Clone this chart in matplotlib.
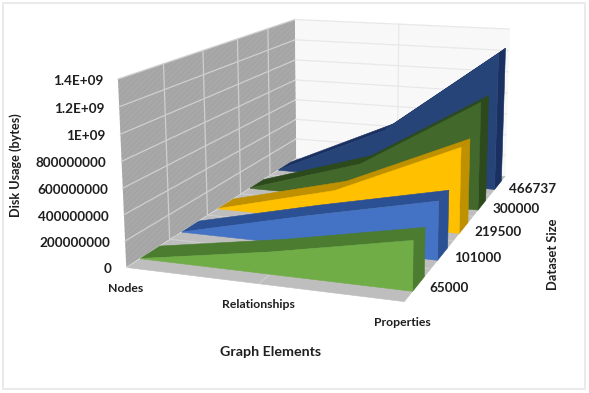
import numpy as np
import matplotlib
matplotlib.use('Agg')
import matplotlib.pyplot as plt
from matplotlib.patches import Rectangle
from mpl_toolkits.mplot3d import proj3d
from mpl_toolkits.mplot3d.art3d import Poly3DCollection

categories = ['Nodes', 'Relationships', 'Properties']
dataset_sizes = ['65000', '101000', '219500', '300000', '466737']
usage_65000 = [2e6, 1.7e8, 3.7e8]
usage_101000 = [2e6, 2.4e8, 4.6e8]
usage_219500 = [3e6, 2.6e8, 7.1e8]
usage_300000 = [4e6, 3.2e8, 9.4e8]
usage_466737 = [5e6, 4.7e8, 1.25e9]
series = [usage_65000, usage_101000, usage_219500, usage_300000, usage_466737]
z_ticks = [0, 2e8, 4e8, 6e8, 8e8, 1e9, 1.2e9, 1.4e9]
z_labels = ['0', '200000000', '400000000', '600000000', '800000000', '1E+09', '1.2E+09', '1.4E+09']

face_colors = ['#70AD47', '#4472C4', '#FFC000', '#43682B', '#264478']
dark_colors = ['#4B7C30', '#2C5094', '#BF9000', '#2C4A1C', '#1A3060']
TEXT = '#1f1f1f'
FONT = 'Lato'

W, H = 589, 393
plt.rcParams['font.family'] = FONT
plt.rcParams['hatch.linewidth'] = 0.35
fig = plt.figure(figsize=(W/100, H/100), dpi=100, facecolor='white')
fig.add_artist(Rectangle((2.5/W, 1-388.5/H), 582/W, 386/H, transform=fig.transFigure,
                         fill=False, edgecolor='#EAEAEA', linewidth=1.4))
ax = fig.add_axes([0.1380, 0.0008, 0.8534, 1.2791], projection='3d', computed_zorder=False)
ax.patch.set_alpha(0)
XMAX, YMAX, ZMAX = 2, 5, 1.4e9
ax.set_xlim(0, XMAX); ax.set_ylim(0, YMAX); ax.set_zlim(0, ZMAX)
ax.set_axis_off()
ax.view_init(elev=12.983, azim=-70.881, roll=0.048)
ax.set_proj_type('persp', focal_length=0.430)
ax.set_box_aspect((4.016, 6.553, 2.657))
ax.set_aspect('auto')

def poly(pts, fc, z, ec=None, lw=0.4, **kw):
    ax.add_collection3d(Poly3DCollection([pts], facecolor=fc, edgecolor=ec if ec else fc,
                                         linewidth=lw, zorder=z, **kw))

# walls and floor
poly([(0,0,0),(0,YMAX,0),(0,YMAX,ZMAX),(0,0,ZMAX)], '#A8A8A8', 1, ec='#9F9F9F', lw=0, hatch='//////')
poly([(0,YMAX,0),(XMAX,YMAX,0),(XMAX,YMAX,ZMAX),(0,YMAX,ZMAX)], '#F8F8F8', 1, ec='#F8F8F8')
poly([(0,0,0),(XMAX,0,0),(XMAX,YMAX,0),(0,YMAX,0)], '#BEBEBE', 1)

for z in z_ticks[1:]:
    ax.plot([0,0],[0,YMAX],[z,z], color='#CFCFCF', lw=0.9, zorder=2)
    ax.plot([0,XMAX],[YMAX,YMAX],[z,z], color='#E8E8E8', lw=0.9, zorder=2)
for y in range(1, YMAX):
    ax.plot([0,0],[y,y],[0,ZMAX], color='#CFCFCF', lw=0.9, zorder=2)
    ax.plot([0,XMAX],[y,y],[0,0], color='#CFCFCF', lw=0.8, zorder=2)
ax.plot([1,1],[YMAX,YMAX],[0,ZMAX], color='#E8E8E8', lw=0.9, zorder=2)
ax.plot([1,1],[0,YMAX],[0,0], color='#CFCFCF', lw=0.8, zorder=2)

# one 3-D area per dataset size, back to front
xs = list(range(len(categories)))
for i in reversed(range(len(series))):
    vals = series[i]
    y0, y1 = i + 0.30, i + 0.75
    base = 10 + 5*(len(series)-i)
    for a in range(len(xs)-1):
        poly([(xs[a],y0,vals[a]),(xs[a+1],y0,vals[a+1]),(xs[a+1],y1,vals[a+1]),(xs[a],y1,vals[a])],
             dark_colors[i], base)
    poly([(xs[-1],y0,0),(xs[-1],y1,0),(xs[-1],y1,vals[-1]),(xs[-1],y0,vals[-1])], dark_colors[i], base+1)
    front = [(x,y0,v) for x,v in zip(xs,vals)] + [(xs[-1],y0,0),(xs[0],y0,0)]
    poly(front, face_colors[i], base+2)

M = ax.get_proj()
def label(txt, x, y, z, dx, dy, **kw):
    X, Y, _ = proj3d.proj_transform(x, y, z, M)
    ax.annotate(txt, xy=(X, Y), xycoords='data', xytext=(dx, dy), textcoords='offset pixels',
                annotation_clip=False, color=TEXT, zorder=100, **kw)

for z, t in zip(z_ticks, z_labels):
    label(t, 0, 0, z, -15, -2, ha='right', va='center', fontsize=9.7, fontweight='bold')
for x, t in enumerate(categories):
    label(t, x, 0, 0, -1, -21, ha='center', va='center', fontsize=8.8, fontweight='bold')
for i, t in enumerate(dataset_sizes):
    label(t, XMAX, i+0.5, 0, 12, -4, ha='left', va='center', fontsize=9.7, fontweight='bold')

fig.text(15.5/W, 1-165/H, 'Disk Usage (bytes)', rotation=90, ha='center', va='center',
         fontsize=9.1, fontweight='bold', color=TEXT)
fig.text(553/W, 1-254/H, 'Dataset Size', rotation=90, ha='center', va='center',
         fontsize=9.3, fontweight='bold', color=TEXT)
fig.text(271/W, 1-352/H, 'Graph Elements', ha='center', va='center',
         fontsize=10.3, fontweight='bold', color=TEXT)
fig.savefig('out.png', dpi=100)
